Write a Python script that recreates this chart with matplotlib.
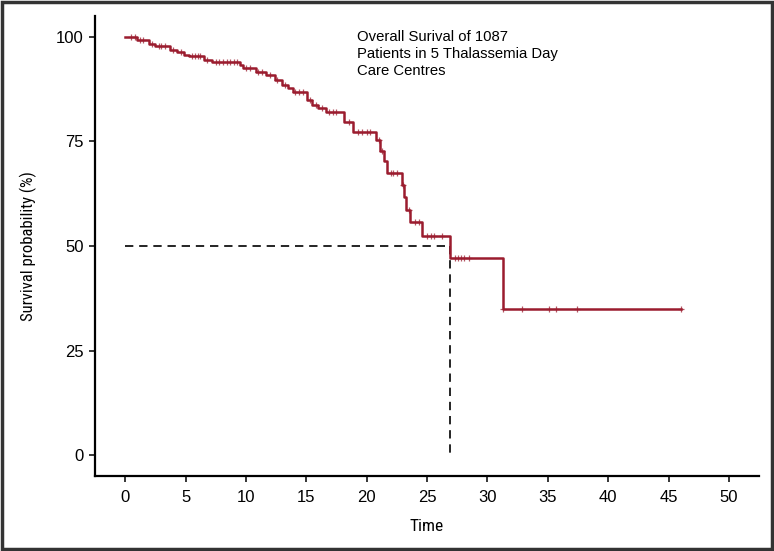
import matplotlib
matplotlib.use("Agg")
import matplotlib.pyplot as plt
import numpy as np
from matplotlib.patches import Rectangle
from matplotlib import font_manager

# step times (years) and survival (%) right after each step
step_times = [0, 1.0, 1.95, 2.5, 3.75, 4.3, 4.85, 5.3, 6.5, 7.2, 9.5, 9.8, 10.8,
              11.7, 12.4, 13.0, 13.5, 13.9, 15.05, 15.5, 16.0, 16.6, 18.1, 18.9,
              20.8, 21.1, 21.45, 21.7, 22.9, 23.1, 23.3, 23.6, 24.6, 26.9, 31.3]
step_surv = [100, 99.3, 98.3, 97.7, 96.9, 96.3, 95.7, 95.3, 94.5, 94.1, 93.3, 92.6, 91.6,
             90.9, 89.7, 88.5, 87.7, 86.7, 84.9, 83.7, 82.9, 82.0, 79.7, 77.3,
             75.3, 72.6, 70.2, 67.4, 64.6, 61.8, 58.6, 55.8, 52.4, 47.1, 35.0]
last_time = 46.0

# censored observations
censor_times = [0.5, 0.8, 1.2, 1.5, 2.2, 2.8, 3.0, 3.3, 4.0, 4.6, 5.5, 5.8, 6.0, 6.2,
                6.8, 7.5, 7.8, 8.1, 8.4, 8.7, 9.0, 9.3, 10.0, 10.3, 11.0, 11.3, 12.0,
                12.6, 13.2, 14.1, 14.4, 14.7, 15.3, 15.8, 16.3, 16.9, 17.2, 17.5,
                18.5, 19.3, 19.6, 20.0, 20.3, 21.0, 21.3, 22.0, 22.2, 22.5, 23.0,
                23.5, 24.0, 24.3, 25.0, 25.3, 25.6, 26.2, 27.3, 27.6, 27.8, 28.1,
                28.5, 31.3, 32.9, 35.1, 35.7, 37.4, 46.0]

median_time = 26.9
annotation = "Overall Surival of 1087\nPatients in 5 Thalassemia Day\nCare Centres"

red = "#9b1c2e"
plt.rcParams['font.family'] = ['Liberation Sans', 'DejaVu Sans']

# a narrow face for the axis titles, if one is around
installed = {f.name for f in font_manager.fontManager.ttflist}
narrow = dict(family='DejaVu Sans', stretch='condensed')
for cand in ['Liberation Sans Narrow', 'Roboto Condensed', 'Open Sans Condensed']:
    if cand in installed:
        narrow = dict(family=cand)
        break

fig = plt.figure(figsize=(7.74, 5.51), dpi=100)
ax = fig.add_axes([0.1227, 0.1361, 0.858, 0.835])

# KM curve
xs = list(step_times) + [last_time]
ys = list(step_surv) + [step_surv[-1]]
ax.step(xs, ys, where='post', color=red, lw=1.8, zorder=3)

idx = np.searchsorted(step_times, censor_times, side='right') - 1
cy = np.array(step_surv)[idx]
ax.plot(censor_times, cy, ls='none', marker='+', ms=5, mew=0.9,
        color=red, alpha=0.75, zorder=4)

# median lines
ax.plot([0, median_time], [50, 50], ls=(0, (5, 3.5)), color='black', lw=1.2, zorder=2)
ax.plot([median_time, median_time], [50, 0], ls=(0, (5, 3.5)), color='black', lw=1.2, zorder=2)

ax.text(19.2, 101.6, annotation, fontsize=10.7, va='top', ha='left',
        linespacing=1.27)

ax.set_xlim(-2.5, 52.5)
ax.set_ylim(-5, 105)
ax.set_xticks(np.arange(0, 51, 5))
ax.set_yticks([0, 25, 50, 75, 100])
ax.tick_params(labelsize=12, length=4, width=1.1, color='black')
ax.tick_params(axis='x', pad=6)
ax.tick_params(axis='y', pad=4)
for s in ['top', 'right']:
    ax.spines[s].set_visible(False)
for s in ['left', 'bottom']:
    ax.spines[s].set_linewidth(1.6)

ax.set_xlabel("Time", fontsize=12.5, **narrow)
ax.set_ylabel("Survival probability (%)", fontsize=12, **narrow)
ax.xaxis.set_label_coords(0.5, -0.093)
ax.yaxis.set_label_coords(-0.088, 0.5)

fig.patches.append(Rectangle((0.002, 0.003), 0.996, 0.994, transform=fig.transFigure,
                             fill=False, edgecolor='#333333', lw=2.5))

fig.savefig("out.png", dpi=100)
